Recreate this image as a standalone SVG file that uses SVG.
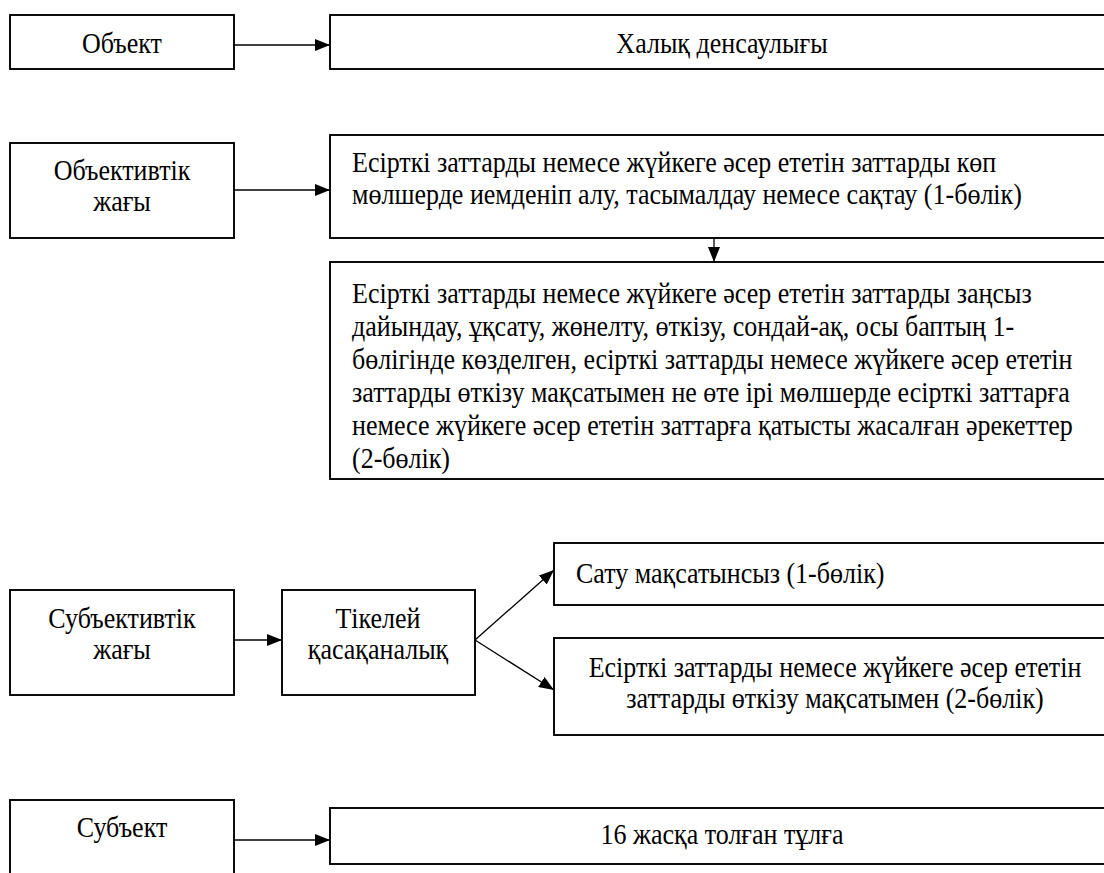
<svg xmlns="http://www.w3.org/2000/svg" width="1104" height="873" viewBox="0 0 1104 873">
<style>
.box{fill:#fff;stroke:#000;stroke-width:1.9}
text{font-family:'Liberation Serif','Times New Roman',serif;font-size:26px;fill:#000}
.c{text-anchor:middle}
.ln{fill:none;stroke:#000;stroke-width:1.3}
</style>
<defs>
<marker id="ah" markerUnits="userSpaceOnUse" markerWidth="15" markerHeight="12" refX="15" refY="6" orient="auto">
<path d="M0,0 L15,6 L0,12 z" fill="#000"/>
</marker>
</defs>
<rect width="1104" height="873" fill="#fff"/>
<g id="connectors">
<line class="ln" x1="234" y1="45" x2="330" y2="45" marker-end="url(#ah)"/>
<line class="ln" x1="234" y1="190" x2="330" y2="190" marker-end="url(#ah)"/>
<line class="ln" x1="714" y1="238" x2="714" y2="262" marker-end="url(#ah)"/>
<line class="ln" x1="234" y1="640" x2="282" y2="640" marker-end="url(#ah)"/>
<line class="ln" x1="475" y1="640" x2="554" y2="570" marker-end="url(#ah)"/>
<line class="ln" x1="475" y1="640" x2="554" y2="690" marker-end="url(#ah)"/>
<line class="ln" x1="234" y1="840" x2="330" y2="840" marker-end="url(#ah)"/>
</g>
<g id="object">
<rect class="box" x="10" y="15" width="224" height="54"/>
<text class="c" transform="translate(122 53) scale(1 1.1)">Объект</text>
</g>
<g id="health">
<rect class="box" x="330" y="15" width="786" height="54"/>
<text class="c" transform="translate(722 53) scale(1 1.1)">Халық денсаулығы</text>
</g>
<g id="objective-side">
<rect class="box" x="10" y="143" width="224" height="95"/>
<text class="c" transform="translate(122 180) scale(1 1.1)">Объективтік</text>
<text class="c" transform="translate(122 211) scale(1 1.1)">жағы</text>
</g>
<g id="part1">
<rect class="box" x="330" y="135" width="786" height="103"/>
<text transform="translate(352 172) scale(1 1.1)">Есірткі заттарды немесе жүйкеге әсер ететін заттарды көп</text>
<text transform="translate(352 204) scale(1 1.1)">мөлшерде иемденіп алу, тасымалдау немесе сақтау (1-бөлік)</text>
</g>
<g id="part2">
<rect class="box" x="330" y="262" width="786" height="217"/>
<text transform="translate(352 303) scale(1 1.1)">Есірткі заттарды немесе жүйкеге әсер ететін заттарды заңсыз</text>
<text transform="translate(352 336) scale(1 1.1)">дайындау, ұқсату, жөнелту, өткізу, сондай-ақ, осы баптың 1-</text>
<text transform="translate(352 369) scale(1 1.1)">бөлігінде көзделген, есірткі заттарды немесе жүйкеге әсер ететін</text>
<text transform="translate(352 402) scale(1 1.1)">заттарды өткізу мақсатымен не өте ірі мөлшерде есірткі заттарға</text>
<text transform="translate(352 435) scale(1 1.1)">немесе жүйкеге әсер ететін заттарға қатысты жасалған әрекеттер</text>
<text transform="translate(352 468) scale(1 1.1)">(2-бөлік)</text>
</g>
<g id="subjective-side">
<rect class="box" x="10" y="590" width="224" height="105"/>
<text class="c" transform="translate(122 628) scale(1 1.1)">Субъективтік</text>
<text class="c" transform="translate(122 659) scale(1 1.1)">жағы</text>
</g>
<g id="direct-intent">
<rect class="box" x="282" y="590" width="193" height="105"/>
<text class="c" transform="translate(378 628) scale(1 1.1)">Тікелей</text>
<text class="c" transform="translate(378 659) scale(1 1.1)">қасақаналық</text>
</g>
<g id="no-sale">
<rect class="box" x="554" y="543" width="562" height="62"/>
<text transform="translate(576 583) scale(1 1.1)">Сату мақсатынсыз (1-бөлік)</text>
</g>
<g id="for-sale">
<rect class="box" x="554" y="638" width="562" height="97"/>
<text class="c" transform="translate(835 677) scale(1 1.1)">Есірткі заттарды немесе жүйкеге әсер ететін</text>
<text class="c" transform="translate(835 708) scale(1 1.1)">заттарды өткізу мақсатымен (2-бөлік)</text>
</g>
<g id="subject">
<rect class="box" x="10" y="800" width="224" height="90"/>
<text class="c" transform="translate(122 837) scale(1 1.1)">Субъект</text>
</g>
<g id="person16">
<rect class="box" x="330" y="808" width="786" height="56"/>
<text class="c" transform="translate(722 844) scale(1 1.1)">16 жасқа толған тұлға</text>
</g>
</svg>
